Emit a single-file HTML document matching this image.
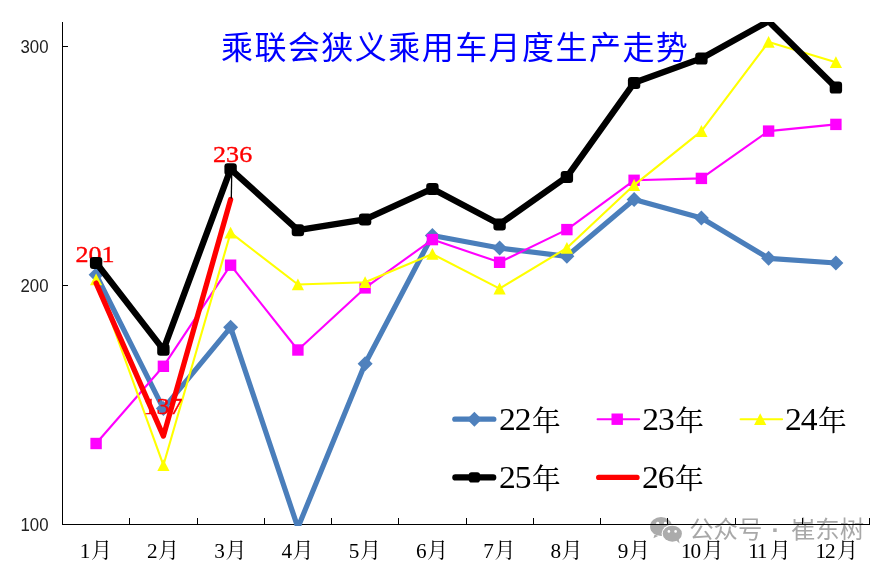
<!DOCTYPE html>
<html lang="zh-CN"><head><meta charset="utf-8"><title>乘联会狭义乘用车月度生产走势</title>
<style>
html,body{margin:0;padding:0;background:#fff;}
body{width:892px;height:565px;overflow:hidden;}
svg{display:block;}
.ax{font-family:"Liberation Sans","Noto Sans CJK SC",sans-serif;font-size:17.7px;fill:#222;}
.xd{font-family:"Liberation Serif","Noto Serif CJK SC",serif;font-size:20.6px;fill:#000;letter-spacing:-1.15px;}
.xc{font-family:"Liberation Serif","Noto Serif CJK SC",serif;font-size:21px;fill:#000;}
.lg{font-family:"Liberation Serif","Noto Serif CJK SC",serif;font-size:31.4px;fill:#000;letter-spacing:-1px;}
.lc{font-family:"Liberation Serif","Noto Serif CJK SC",serif;font-size:28.7px;fill:#000;}
.dl{font-family:"Liberation Serif","Noto Serif CJK SC",serif;font-size:23.3px;fill:#ff0000;stroke:#ff0000;stroke-width:.35px;}
.tt{font-family:"Liberation Sans","Noto Sans CJK SC",sans-serif;font-size:32px;fill:#0000ff;letter-spacing:1.45px;}
.wm{font-family:"Liberation Sans","Noto Sans CJK SC",sans-serif;font-size:24.4px;font-weight:400;fill:#a8a8a8;}
.wd{font-family:"Liberation Sans",sans-serif;font-size:24.7px;font-weight:700;fill:#ababab;}
</style></head><body>
<svg width="892" height="565" viewBox="0 0 892 565">
<defs><clipPath id="pa"><rect x="0" y="22.0" width="892" height="504.1"/></clipPath></defs>
<rect width="892" height="565" fill="#fff"/>

<text class="tt" x="221" y="58.5">乘联会狭义乘用车月度生产走势</text>
<g fill="#ababab">
<path d="M654.6 534.6L653.4 538.2L658.2 535.9Z"/>
<ellipse cx="661.0" cy="526.5" rx="10.9" ry="9.6"/>
<ellipse cx="672.3" cy="533.7" rx="10.7" ry="9.1" fill="#fff"/>
<path d="M676.0 540.2L679.6 543.4L678.6 539.0Z"/>
<ellipse cx="672.3" cy="533.7" rx="9.6" ry="8.0"/>
</g>
<g fill="#fff"><circle cx="657.7" cy="523.3" r="1.45"/><circle cx="665.4" cy="523.3" r="1.45"/><circle cx="668.9" cy="531.4" r="1.3"/><circle cx="675.6" cy="531.4" r="1.3"/></g>
<text class="wm" x="689.2" y="538.2">公众号</text><text class="wd" x="771.4" y="538.1">·</text><text class="wm" x="790.9" y="538.2">崔东树</text>
<g stroke="#000" stroke-width="1" fill="none" shape-rendering="crispEdges">
<line x1="62.5" y1="22.0" x2="62.5" y2="525.0"/>
<line x1="62.0" y1="524.5" x2="870.0" y2="524.5"/>
<line x1="62.5" y1="524.5" x2="68.0" y2="524.5"/>
<line x1="62.5" y1="285.5" x2="68.0" y2="285.5"/>
<line x1="62.5" y1="46.5" x2="68.0" y2="46.5"/>
<line x1="129.5" y1="524.5" x2="129.5" y2="518.0"/>
<line x1="197.5" y1="524.5" x2="197.5" y2="518.0"/>
<line x1="264.5" y1="524.5" x2="264.5" y2="518.0"/>
<line x1="331.5" y1="524.5" x2="331.5" y2="518.0"/>
<line x1="398.5" y1="524.5" x2="398.5" y2="518.0"/>
<line x1="466.5" y1="524.5" x2="466.5" y2="518.0"/>
<line x1="533.5" y1="524.5" x2="533.5" y2="518.0"/>
<line x1="600.5" y1="524.5" x2="600.5" y2="518.0"/>
<line x1="667.5" y1="524.5" x2="667.5" y2="518.0"/>
<line x1="735.5" y1="524.5" x2="735.5" y2="518.0"/>
<line x1="802.5" y1="524.5" x2="802.5" y2="518.0"/>
<line x1="869.5" y1="524.5" x2="869.5" y2="518.0"/>
</g>
<text class="ax" transform="translate(48.5,530.8) scale(.95,1)" text-anchor="end">100</text>
<text class="ax" transform="translate(48.5,291.8) scale(.95,1)" text-anchor="end">200</text>
<text class="ax" transform="translate(48.5,52.8) scale(.95,1)" text-anchor="end">300</text>
<text class="xd" transform="translate(79.72,557.8) scale(1.03,1)">1</text><text class="xc" x="90.88" y="556.9">月</text>
<text class="xd" transform="translate(146.97,557.8) scale(1.03,1)">2</text><text class="xc" x="158.12" y="556.9">月</text>
<text class="xd" transform="translate(214.22,557.8) scale(1.03,1)">3</text><text class="xc" x="225.38" y="556.9">月</text>
<text class="xd" transform="translate(281.48,557.8) scale(1.03,1)">4</text><text class="xc" x="292.62" y="556.9">月</text>
<text class="xd" transform="translate(348.73,557.8) scale(1.03,1)">5</text><text class="xc" x="359.88" y="556.9">月</text>
<text class="xd" transform="translate(415.98,557.8) scale(1.03,1)">6</text><text class="xc" x="427.12" y="556.9">月</text>
<text class="xd" transform="translate(483.23,557.8) scale(1.03,1)">7</text><text class="xc" x="494.38" y="556.9">月</text>
<text class="xd" transform="translate(550.48,557.8) scale(1.03,1)">8</text><text class="xc" x="561.62" y="556.9">月</text>
<text class="xd" transform="translate(617.73,557.8) scale(1.03,1)">9</text><text class="xc" x="628.88" y="556.9">月</text>
<text class="xd" transform="translate(680.98,557.8) scale(1.03,1)">10</text><text class="xc" x="702.42" y="556.9">月</text>
<text class="xd" transform="translate(748.23,557.8) scale(1.03,1)">11</text><text class="xc" x="769.67" y="556.9">月</text>
<text class="xd" transform="translate(815.48,557.8) scale(1.03,1)">12</text><text class="xc" x="836.92" y="556.9">月</text>
<g clip-path="url(#pa)" fill="none" stroke-linejoin="round" stroke-linecap="round">
<polyline points="96.1,274.7 163.4,408.6 230.6,327.3 297.9,527.6 365.1,363.7 432.4,235.5 499.6,248.0 566.9,256.3 634.1,199.5 701.4,217.9 768.6,258.3 835.9,263.0" stroke="#4a7ebb" stroke-width="5.2"/>
<path d="M96.1 267.2L103.6 274.7L96.1 282.2L88.6 274.7Z" fill="#4f81bd" stroke="none"/>
<path d="M163.4 401.1L170.9 408.6L163.4 416.1L155.9 408.6Z" fill="#4f81bd" stroke="none"/>
<path d="M230.6 319.8L238.1 327.3L230.6 334.8L223.1 327.3Z" fill="#4f81bd" stroke="none"/>
<path d="M365.1 356.2L372.6 363.7L365.1 371.2L357.6 363.7Z" fill="#4f81bd" stroke="none"/>
<path d="M432.4 228.0L439.9 235.5L432.4 243.0L424.9 235.5Z" fill="#4f81bd" stroke="none"/>
<path d="M499.6 240.5L507.1 248.0L499.6 255.5L492.1 248.0Z" fill="#4f81bd" stroke="none"/>
<path d="M566.9 248.8L574.4 256.3L566.9 263.8L559.4 256.3Z" fill="#4f81bd" stroke="none"/>
<path d="M634.1 192.0L641.6 199.5L634.1 207.0L626.6 199.5Z" fill="#4f81bd" stroke="none"/>
<path d="M701.4 210.4L708.9 217.9L701.4 225.4L693.9 217.9Z" fill="#4f81bd" stroke="none"/>
<path d="M768.6 250.8L776.1 258.3L768.6 265.8L761.1 258.3Z" fill="#4f81bd" stroke="none"/>
<path d="M835.9 255.5L843.4 263.0L835.9 270.5L828.4 263.0Z" fill="#4f81bd" stroke="none"/>
<polyline points="96.1,443.5 163.4,366.3 230.6,265.2 297.9,350.0 365.1,287.9 432.4,239.6 499.6,262.3 566.9,229.6 634.1,180.3 701.4,178.4 768.6,131.1 835.9,124.4" stroke="#ff00ff" stroke-width="2.1"/>
<rect x="90.4" y="437.8" width="11.4" height="11.4" fill="#ff00ff" stroke="none"/>
<rect x="157.7" y="360.6" width="11.4" height="11.4" fill="#ff00ff" stroke="none"/>
<rect x="224.9" y="259.5" width="11.4" height="11.4" fill="#ff00ff" stroke="none"/>
<rect x="292.2" y="344.3" width="11.4" height="11.4" fill="#ff00ff" stroke="none"/>
<rect x="359.4" y="282.2" width="11.4" height="11.4" fill="#ff00ff" stroke="none"/>
<rect x="426.7" y="233.9" width="11.4" height="11.4" fill="#ff00ff" stroke="none"/>
<rect x="493.9" y="256.6" width="11.4" height="11.4" fill="#ff00ff" stroke="none"/>
<rect x="561.2" y="223.9" width="11.4" height="11.4" fill="#ff00ff" stroke="none"/>
<rect x="628.4" y="174.6" width="11.4" height="11.4" fill="#ff00ff" stroke="none"/>
<rect x="695.7" y="172.7" width="11.4" height="11.4" fill="#ff00ff" stroke="none"/>
<rect x="762.9" y="125.4" width="11.4" height="11.4" fill="#ff00ff" stroke="none"/>
<rect x="830.2" y="118.7" width="11.4" height="11.4" fill="#ff00ff" stroke="none"/>
<polyline points="96.1,279.5 163.4,465.2 230.6,232.7 297.9,284.5 365.1,282.2 432.4,254.0 499.6,288.6 566.9,248.0 634.1,185.1 701.4,131.1 768.6,42.0 835.9,62.3" stroke="#ffff00" stroke-width="2.1"/>
<path d="M96.1 273.5L102.2 285.3L90.0 285.3Z" fill="#ffff00" stroke="none"/>
<path d="M163.4 459.2L169.5 471.0L157.3 471.0Z" fill="#ffff00" stroke="none"/>
<path d="M230.6 226.7L236.7 238.5L224.5 238.5Z" fill="#ffff00" stroke="none"/>
<path d="M297.9 278.5L304.0 290.3L291.8 290.3Z" fill="#ffff00" stroke="none"/>
<path d="M365.1 276.2L371.2 288.0L359.0 288.0Z" fill="#ffff00" stroke="none"/>
<path d="M432.4 248.0L438.5 259.8L426.3 259.8Z" fill="#ffff00" stroke="none"/>
<path d="M499.6 282.6L505.7 294.4L493.5 294.4Z" fill="#ffff00" stroke="none"/>
<path d="M566.9 242.0L573.0 253.8L560.8 253.8Z" fill="#ffff00" stroke="none"/>
<path d="M634.1 179.1L640.2 190.9L628.0 190.9Z" fill="#ffff00" stroke="none"/>
<path d="M701.4 125.1L707.5 136.9L695.3 136.9Z" fill="#ffff00" stroke="none"/>
<path d="M768.6 36.0L774.7 47.8L762.5 47.8Z" fill="#ffff00" stroke="none"/>
<path d="M835.9 56.3L842.0 68.1L829.8 68.1Z" fill="#ffff00" stroke="none"/>
<polyline points="96.1,283.1 163.4,436.1 230.6,199.5" stroke="#ff0000" stroke-width="5.3"/>
</g>
<line x1="231.8" y1="169.1" x2="231.3" y2="198.5" stroke="#000" stroke-width="1.3"/>
<text class="dl" transform="translate(95.0,262.1) scale(1.12,1)" text-anchor="middle">201</text>
<text class="dl" transform="translate(163.0,413.8) scale(1.12,1)" text-anchor="middle">137</text>
<text class="dl" transform="translate(232.6,162.1) scale(1.12,1)" text-anchor="middle">236</text>
<g clip-path="url(#pa)" fill="none" stroke-linejoin="round" stroke-linecap="round">
<polyline points="96.1,262.8 163.4,349.6 230.6,169.1 297.9,230.1 365.1,219.3 432.4,188.7 499.6,224.3 566.9,176.8 634.1,82.8 701.4,58.4 768.6,21.2 835.9,87.4" stroke="#000" stroke-width="6.3"/>
<rect x="93.1" y="260.2" width="6" height="5.6" fill="#000" stroke="#000" stroke-width="6.4"/>
<rect x="160.4" y="347.0" width="6" height="5.6" fill="#000" stroke="#000" stroke-width="6.4"/>
<rect x="227.6" y="166.5" width="6" height="5.6" fill="#000" stroke="#000" stroke-width="6.4"/>
<rect x="294.9" y="227.5" width="6" height="5.6" fill="#000" stroke="#000" stroke-width="6.4"/>
<rect x="362.1" y="216.7" width="6" height="5.6" fill="#000" stroke="#000" stroke-width="6.4"/>
<rect x="429.4" y="186.1" width="6" height="5.6" fill="#000" stroke="#000" stroke-width="6.4"/>
<rect x="496.6" y="221.7" width="6" height="5.6" fill="#000" stroke="#000" stroke-width="6.4"/>
<rect x="563.9" y="174.2" width="6" height="5.6" fill="#000" stroke="#000" stroke-width="6.4"/>
<rect x="631.1" y="80.2" width="6" height="5.6" fill="#000" stroke="#000" stroke-width="6.4"/>
<rect x="698.4" y="55.8" width="6" height="5.6" fill="#000" stroke="#000" stroke-width="6.4"/>
<rect x="832.9" y="84.8" width="6" height="5.6" fill="#000" stroke="#000" stroke-width="6.4"/>
</g>
<line x1="454.8" y1="419.2" x2="493.8" y2="419.2" stroke="#4a7ebb" stroke-width="5.2" stroke-linecap="round"/>
<path d="M474.4 411.7L481.9 419.2L474.4 426.7L466.9 419.2Z" fill="#4f81bd"/>
<text class="lg" transform="translate(499.00,430.0) scale(1.07,1)">22</text><text class="lc" x="532.00" y="430.5">年</text>
<line x1="597.6" y1="419.2" x2="639.1" y2="419.2" stroke="#ff00ff" stroke-width="2.1" stroke-linecap="round"/>
<rect x="611.5" y="413.5" width="11.4" height="11.4" fill="#ff00ff"/>
<text class="lg" transform="translate(642.20,430.0) scale(1.07,1)">23</text><text class="lc" x="675.20" y="430.5">年</text>
<line x1="740.6" y1="419.2" x2="782.1" y2="419.2" stroke="#ffff00" stroke-width="2.1" stroke-linecap="round"/>
<path d="M760.2 413.2L766.3 425.0L754.1 425.0Z" fill="#ffff00"/>
<text class="lg" transform="translate(785.00,430.0) scale(1.07,1)">24</text><text class="lc" x="818.00" y="430.5">年</text>
<line x1="455.4" y1="477.4" x2="493.2" y2="477.4" stroke="#000" stroke-width="6.3" stroke-linecap="round"/>
<rect x="471.6" y="475.1" width="5.6" height="4.6" fill="#000" stroke="#000" stroke-width="5.6" stroke-linejoin="round"/>
<text class="lg" transform="translate(499.00,488.2) scale(1.07,1)">25</text><text class="lc" x="532.00" y="488.7">年</text>
<line x1="598.7" y1="477.4" x2="637.0" y2="477.4" stroke="#ff0000" stroke-width="5.3" stroke-linecap="round"/>
<text class="lg" transform="translate(642.00,488.2) scale(1.07,1)">26</text><text class="lc" x="675.00" y="488.7">年</text>
</svg></body></html>
